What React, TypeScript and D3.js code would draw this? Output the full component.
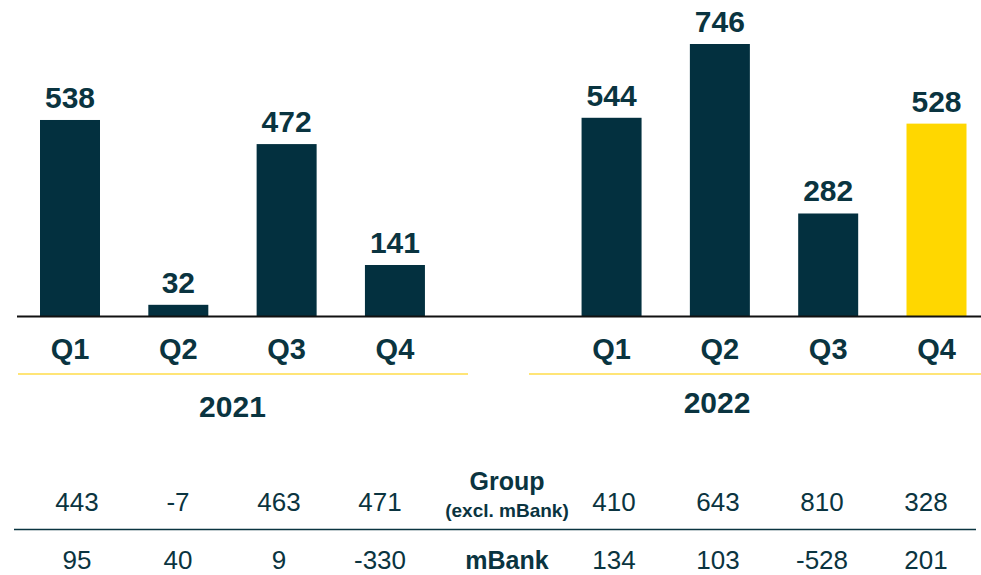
import React from "react";
import * as d3 from "d3";

const years = ["2021", "2022"];
const quarters = ["Q1", "Q2", "Q3", "Q4"];
const values2021 = [538, 32, 472, 141];
const values2022 = [544, 746, 282, 528];
const groupExcl2021 = ["443", "-7", "463", "471"];
const groupExcl2022 = ["410", "643", "810", "328"];
const mbank2021 = ["95", "40", "9", "-330"];
const mbank2022 = ["134", "103", "-528", "201"];
const highlightKey = "2022-Q4";

const W = 981;
const H = 575;
const DARK = "#03303f";
const TEXT = "#0a3440";
const YELLOW = "#ffd700";
const YELLOW_LINE = "#ffdc4a";
const FONT = "'Liberation Sans', Arial, Helvetica, sans-serif";

type Bar = { key: string; year: string; q: string; value: number };

const bars: Bar[] = [
  ...quarters.map((q, i) => ({ key: `2021-${q}`, year: "2021", q, value: values2021[i] })),
  ...quarters.map((q, i) => ({ key: `2022-${q}`, year: "2022", q, value: values2022[i] })),
];

const slots = [
  ...quarters.map((q) => `2021-${q}`),
  "gap",
  ...quarters.map((q) => `2022-${q}`),
];

export default function App() {
  const baseY = 316.5;
  const x = d3.scalePoint<string>().domain(slots).range([70, 936.5]);
  const y = d3.scaleLinear().domain([0, 746]).range([baseY, 44]);
  const barW = 60;

  const tx2021 = d3.scalePoint<string>().domain(quarters).range([77, 380]);
  const tx2022 = d3.scalePoint<string>().domain(quarters).range([614, 926]);
  const labelX = 507;

  const yearLabelX: Record<string, number> = {
    "2021": ((x("2021-Q1") as number) + (x("2021-Q4") as number)) / 2,
    "2022": 717,
  };
  const yearLabelY: Record<string, number> = { "2021": 417, "2022": 413 };
  const yearLine: Record<string, [number, number]> = { "2021": [18, 468], "2022": [529, 981] };

  return (
    <svg
      width={W}
      height={H}
      viewBox={`0 0 ${W} ${H}`}
      style={{ position: "absolute", left: 0, top: 0, background: "#fff", fontFamily: FONT }}
    >
      {bars.map((b) => {
        const cx = x(b.key) as number;
        return (
          <g key={b.key}>
            <rect
              x={cx - barW / 2}
              y={y(b.value)}
              width={barW}
              height={baseY - y(b.value)}
              fill={b.key === highlightKey ? YELLOW : DARK}
            />
            <text
              x={cx}
              y={y(b.value) - 12}
              textAnchor="middle"
              fontSize={30}
              fontWeight="bold"
              fill={TEXT}
            >
              {b.value}
            </text>
            <text x={cx} y={359} textAnchor="middle" fontSize={29} fontWeight="bold" fill={TEXT}>
              {b.q}
            </text>
          </g>
        );
      })}
      <line x1={17} x2={W} y1={baseY} y2={baseY} stroke="#111" strokeWidth={2} />

      {years.map((yr) => (
        <g key={yr}>
          <line
            x1={yearLine[yr][0]}
            x2={yearLine[yr][1]}
            y1={374}
            y2={374}
            stroke={YELLOW_LINE}
            strokeWidth={1.5}
          />
          <text
            x={yearLabelX[yr]}
            y={yearLabelY[yr]}
            textAnchor="middle"
            fontSize={30}
            fontWeight="bold"
            fill={TEXT}
          >
            {yr}
          </text>
        </g>
      ))}

      {/* table */}
      {quarters.map((q, i) => (
        <g key={`t-${q}`} fontSize={26} fill={TEXT}>
          <text x={tx2021(q)} y={511} textAnchor="middle">{groupExcl2021[i]}</text>
          <text x={tx2022(q)} y={511} textAnchor="middle">{groupExcl2022[i]}</text>
          <text x={tx2021(q)} y={569} textAnchor="middle">{mbank2021[i]}</text>
          <text x={tx2022(q)} y={569} textAnchor="middle">{mbank2022[i]}</text>
        </g>
      ))}
      <text x={labelX} y={490} textAnchor="middle" fontSize={25} fontWeight="bold" fill={TEXT}>
        Group
      </text>
      <text x={labelX} y={517} textAnchor="middle" fontSize={19} fontWeight="bold" fill={TEXT}>
        (excl. mBank)
      </text>
      <line x1={14} x2={976} y1={529.5} y2={529.5} stroke={TEXT} strokeWidth={1.5} />
      <text x={labelX} y={569} textAnchor="middle" fontSize={25} fontWeight="bold" fill={TEXT}>
        mBank
      </text>
    </svg>
  );
}
